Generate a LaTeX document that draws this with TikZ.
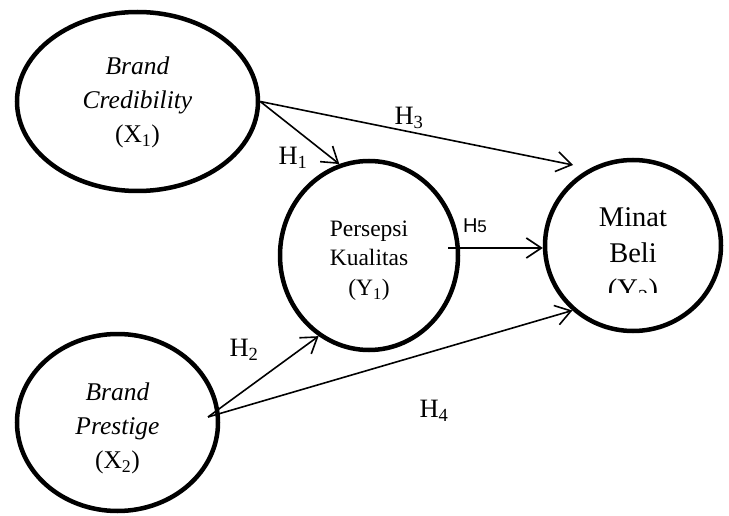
\documentclass[tikz,border=0pt]{standalone}
\usepackage{fontspec}
\setmainfont{Liberation Serif}
\newfontfamily\hsans{Liberation Sans}
\usetikzlibrary{shapes.geometric,arrows.meta}
\tikzset{
  var/.style={draw, ellipse, line width=4.5pt, inner sep=0pt},
  vtext/.style={align=center, inner sep=0pt},
  path/.style={line width=1.6pt, -{Straight Barb[length=15pt,width=20pt]}},
  hlab/.style={inner sep=0pt, font=\fontsize{26.5}{26.5}\selectfont},
}
\begin{document}
\begin{tikzpicture}[x=1pt,y=-1pt]
\useasboundingbox (0,0) rectangle (729,516);
% constructs
\node[var, minimum width=241pt, minimum height=179pt] (X1) at (137.5,101.5) {};
\node[vtext, font=\fontsize{25.5}{34}\selectfont] (X1t) at (137.5,102.5)
      {\textit{Brand}\\\textit{Credibility}\\(X\textsubscript{1})};
\node[var, minimum width=201pt, minimum height=177pt] (X2) at (117.5,422.5) {};
\node[vtext, font=\fontsize{25.5}{34}\selectfont] (X2t) at (117.5,428.5)
      {\textit{Brand}\\\textit{Prestige}\\(X\textsubscript{2})};
\node[var, minimum width=178pt, minimum height=189pt] (Y1) at (369,255.5) {};
\node[vtext, font=\fontsize{23.5}{29.5}\selectfont] (Y1t) at (369,260.5)
      {Persepsi\\Kualitas\\(Y\textsubscript{1})};
\node[var, minimum width=176pt, minimum height=171pt] (Y2) at (633,245.5) {};
\begin{scope}
  \clip (540,150) rectangle (729,292);
  \node[vtext, font=\fontsize{28.5}{36}\selectfont] (Y2t) at (633,256)
    {Minat\\Beli\\(Y\textsubscript{2})};
\end{scope}
% helper coordinates
\coordinate (x2s) at (208,417);
\coordinate (h3t) at (573,165);
\coordinate (h5s) at (448,248);
% paths
\draw[path] (X1.east) -- (Y1.108);
\draw[path] (X1.east) -- (h3t);
\draw[path] (x2s) -- (Y1.238);
\draw[path] (x2s) -- (Y2.227);
\draw[path] (h5s) -- (h5s -| Y2.west);
% labels
\node[hlab] (H1) at (293,158) {H\textsubscript{1}};
\node[hlab] (H3) at (409,118) {H\textsubscript{3}};
\node[hlab] (H2) at (244,350) {H\textsubscript{2}};
\node[hlab] (H4) at (434,411) {H\textsubscript{4}};
\node[inner sep=0pt, font=\hsans\fontsize{20}{20}\selectfont] (H5) at (475,226) {H{\fontsize{17}{17}\selectfont 5}};
\end{tikzpicture}
\end{document}
